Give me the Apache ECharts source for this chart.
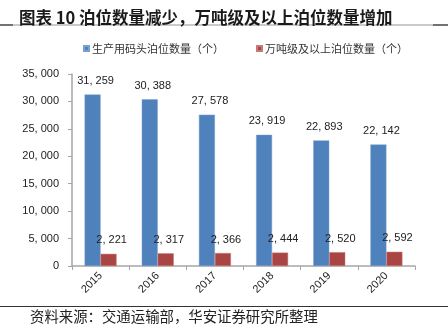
<!DOCTYPE html>
<html><head><meta charset="utf-8">
<script src="https://cdn.jsdelivr.net/npm/echarts@6/dist/echarts.min.js"></script>
<style>html,body{margin:0;padding:0;background:#fff}#c{width:448px;height:334px}</style>
</head><body><div id="c"></div>
<script>
var categories = ['2015','2016','2017','2018','2019','2020'];
var berths = [31259, 30388, 27578, 23919, 22893, 22142];
var bigBerths = [2221, 2317, 2366, 2444, 2520, 2592];
var seriesNames = ['生产用码头泊位数量（个）', '万吨级及以上泊位数量（个）'];
var yTicks = [0, 5000, 10000, 15000, 20000, 25000, 30000, 35000];
var titleText = '图表 10 泊位数量减少，万吨级及以上泊位数量增加';
var sourceText = '资料来源：交通运输部，华安证券研究所整理';

function fmt(v){ return String(v).replace(/\B(?=(\d{3})+(?!\d))/g, ', '); }
var numFont = 'Liberation Sans, Arial, sans-serif';
var cjk = 'Noto Sans CJK SC';

var chart = echarts.init(document.getElementById('c'), null, {renderer:'canvas'});
chart.setOption({
  animation: false,
  backgroundColor: '#fff',
  title: {
    text: titleText, left: 14, top: 4,
    textStyle: {fontFamily: cjk, fontSize: 16.5, fontWeight: 'bold', color: '#1a1a1a'}
  },
  graphic: [
    {type:'line', shape:{x1:0,y1:25,x2:448,y2:25}, style:{stroke:'#b8b8b8', lineWidth:1.5}},
    {type:'line', shape:{x1:0,y1:25,x2:13,y2:25}, style:{stroke:'#555', lineWidth:1.5}},
    {type:'line', shape:{x1:433,y1:25,x2:448,y2:25}, style:{stroke:'#555', lineWidth:1.5}},
    {type:'line', shape:{x1:0,y1:306.5,x2:448,y2:306.5}, style:{stroke:'#333', lineWidth:1}},
    {type:'text', left: 30, top: 309, style:{text: sourceText, font: '14.4px "Noto Sans CJK SC"', fill:'#222'}}
  ],
  legend: {
    top: 38, left: 78,
    itemWidth: 5, itemHeight: 5, itemGap: 32,
    icon: 'rect',
    textStyle: {fontFamily: cjk, fontSize: 11, color: '#333', padding:[0,0,0,-2]},
    data: seriesNames
  },
  grid: {left: 72, right: 33, top: 74, bottom: 68, containLabel: false},
  xAxis: {
    type: 'category', data: categories,
    axisLine: {lineStyle: {color: '#a6a6a6', width: 1.5}},
    axisTick: {show: true, length: 4, lineStyle:{color:'#a6a6a6'}},
    axisLabel: {rotate: 45, margin: 8, fontFamily: numFont, fontSize: 11, color: '#222'}
  },
  yAxis: {
    type: 'value', min: 0, max: 35000, interval: 5000,
    axisLine: {show: true, lineStyle: {color: '#a6a6a6', width: 1.5}},
    axisTick: {show: true, length: 4, lineStyle:{color:'#a6a6a6'}},
    splitLine: {show: false},
    axisLabel: {margin: 13, fontFamily: numFont, fontSize: 11, color: '#222', formatter: function(v){return fmt(v);}}
  },
  series: [
    {name: seriesNames[0], type: 'bar', data: berths, barWidth: 16, barGap: '0%',
     itemStyle: {color: '#4F81BD', borderColor:'#7aa0d0', borderWidth: 0.5},
     label: {show: true, position: 'top', distance: 8, offset:[3,0], fontFamily: numFont, fontSize: 11, color: '#222', formatter: function(p){return fmt(p.value);}}},
    {name: seriesNames[1], type: 'bar', data: bigBerths, barWidth: 16,
     itemStyle: {color: '#A94644', borderColor:'#c77b79', borderWidth: 0.5},
     label: {show: true, position: 'top', distance: 8, offset:[3,0], fontFamily: numFont, fontSize: 11, color: '#222', formatter: function(p){return fmt(p.value);}}}
  ]
});
</script></body></html>
